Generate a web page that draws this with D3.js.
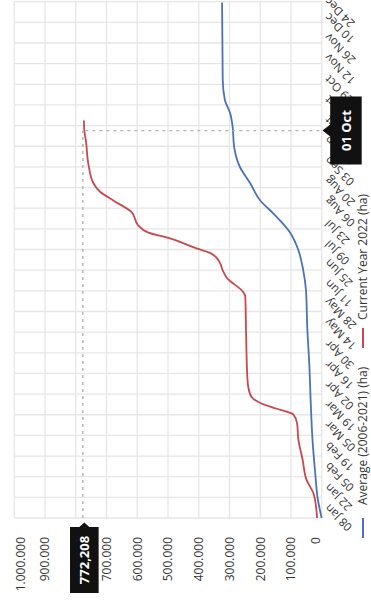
<!DOCTYPE html>
<html><head><meta charset="utf-8">
<script src="https://cdn.jsdelivr.net/npm/d3@7"></script>
<style>
html,body{margin:0;padding:0;background:#fff;}
svg{display:block;font-family:"Open Sans",sans-serif;}
</style>
</head><body>
<svg id="chart" width="371" height="609"></svg>
<script>
// ---- data ----
const tickDates = ["2022-01-08","2022-01-22","2022-02-05","2022-02-19","2022-03-05","2022-03-19",
  "2022-04-02","2022-04-16","2022-04-30","2022-05-14","2022-05-28","2022-06-11","2022-06-25",
  "2022-07-09","2022-07-23","2022-08-06","2022-08-20","2022-09-03","2022-09-17","2022-10-01",
  "2022-10-15","2022-10-29","2022-11-12","2022-11-26","2022-12-10","2022-12-24"];
const valueTicks = [0,100000,200000,300000,400000,500000,600000,700000,800000,900000,1000000];
const seriesNames = ["Average (2006-2021) (ha)", "Current Year 2022 (ha)"];
const seriesColors = ["#4a72b9", "#c8484f"];

const avgDates = ["2022-01-08","2022-01-20","2022-02-10","2022-03-03","2022-03-30","2022-04-22",
  "2022-05-19","2022-06-13","2022-06-27","2022-07-11","2022-07-23","2022-08-05","2022-08-14",
  "2022-08-26","2022-09-06","2022-09-20","2022-10-04","2022-10-13","2022-10-22","2022-11-05","2022-12-28"];
const avgValues = [0,12000,22000,30000,36000,40000,47000,51000,60000,76000,103000,157000,200000,
  233000,266000,285000,290000,298000,315000,322000,324000];

const curDates = ["2022-01-08","2022-01-13","2022-01-25","2022-02-03","2022-02-17","2022-03-03",
  "2022-03-14","2022-03-20","2022-03-24","2022-03-28","2022-04-01","2022-04-08","2022-04-15",
  "2022-05-15","2022-06-09","2022-06-12","2022-06-22","2022-06-27","2022-07-03","2022-07-09",
  "2022-07-13","2022-07-19","2022-07-23","2022-07-28","2022-08-06","2022-08-14","2022-08-20",
  "2022-08-26","2022-09-08","2022-09-24","2022-10-01","2022-10-08"];
const curValues = [15000,17000,27000,49000,62000,76000,80000,92000,146000,200000,228000,239000,242000,
  246000,248500,255000,309000,322000,333000,363000,418000,493000,564000,597000,618000,678000,721000,
  743000,759000,767000,772208,773500];

const cursorDate = "2022-10-01";
const cursorValue = 772208;
const domainDates = ["2022-01-08","2022-12-28T12:00:00Z"];

// ---- layout (chart drawn in its own frame, then turned 90° counter-clockwise) ----
const W = 609, H = 371;
const plot = {left: 91, right: 607.3, top: 14.3, bottom: 321.7};

const svg = d3.select("#chart");
const g = svg.append("g").attr("transform", `translate(0,${W}) rotate(-90)`);

const parse = s => new Date(s.length === 10 ? s + "T00:00:00Z" : s);
const x = d3.scaleUtc().domain(domainDates.map(parse)).range([plot.left, plot.right]);
const y = d3.scaleLinear().domain([0, 1000000]).range([plot.bottom, plot.top]);
const gridScale = d3.scaleLinear().domain([0, 25]).range([plot.left, plot.right]);

// grid
const grid = g.append("g").attr("stroke", "#e6e6e6").attr("stroke-width", 1.3);
grid.selectAll("line.v").data(d3.range(26)).join("line")
  .attr("x1", d => gridScale(d)).attr("x2", d => gridScale(d))
  .attr("y1", plot.top).attr("y2", plot.bottom);
grid.selectAll("line.h").data(valueTicks).join("line")
  .attr("x1", plot.left).attr("x2", plot.right)
  .attr("y1", d => y(d)).attr("y2", d => y(d));

// value axis labels
const loc = d3.formatLocale({decimal: ",", thousands: ".", grouping: [3], currency: ["", ""]});
const fmt = loc.format(",d");
const yAxis = g.append("g").attr("transform", `translate(${plot.left},0)`)
  .call(d3.axisLeft(y).tickValues(valueTicks).tickSize(0).tickPadding(19).tickFormat(fmt));
yAxis.select(".domain").remove();
yAxis.selectAll("text").attr("font-size", 12).attr("fill", "#333").attr("font-family", "Open Sans")
  .attr("dy", d => d === 0 ? "-0.22em" : (d === 1000000 ? "0.82em" : "0.32em"));

// date labels
const fmtDate = d3.utcFormat("%d %b");
const dl = g.append("g");
tickDates.forEach(s => {
  const d = parse(s);
  const t = dl.append("text").text(fmtDate(d))
    .attr("font-size", 11.5).attr("fill", "#333")
    .attr("text-anchor", "middle").attr("dominant-baseline", "central");
  const L = t.node().getComputedTextLength();
  const ext = (L + 8) * Math.SQRT1_2;
  const px = Math.min(x(d), W - ext / 2 + 3);
  t.attr("transform", `translate(${px},${plot.bottom + 2 + ext / 2}) rotate(-45)`);
});

// series
const line = d3.line().x(d => x(d[0])).y(d => y(d[1])).curve(d3.curveMonotoneX);
g.append("clipPath").attr("id", "clip").append("rect")
  .attr("x", plot.left).attr("y", plot.top - 2)
  .attr("width", plot.right - plot.left).attr("height", plot.bottom - plot.top + 4);
const series = [
  d3.zip(avgDates.map(parse), avgValues),
  d3.zip(curDates.map(parse), curValues)
];
g.append("g").attr("clip-path", "url(#clip)").selectAll("path").data(series).join("path")
  .attr("d", line).attr("fill", "none")
  .attr("stroke", (d, i) => seriesColors[i]).attr("stroke-width", 1.8);

// cursor lines
const cx = x(parse(cursorDate)), cy = y(cursorValue);
const cur = g.append("g").attr("stroke", "#b3b3b3").attr("stroke-width", 1.4).attr("stroke-dasharray", "3,4");
cur.append("line").attr("x1", cx).attr("x2", cx).attr("y1", cy + 1).attr("y2", plot.bottom);
cur.append("line").attr("x1", plot.left).attr("x2", cx).attr("y1", cy - 1.5).attr("y2", cy - 1.5);

// legend
const legend = g.append("g");
const legendX = [71, 261];
seriesNames.forEach((name, i) => {
  const lg = legend.append("g").attr("transform", `translate(${legendX[i]},363)`);
  lg.append("line").attr("x1", 0).attr("x2", 20).attr("stroke", seriesColors[i]).attr("stroke-width", 2);
  lg.append("text").attr("x", i === 0 ? 33 : 28).attr("dy", "0.35em").attr("font-size", 12)
    .attr("fill", "#333").text(name);
});

// date tooltip
const dt = g.append("g").attr("transform", `translate(${cx},${plot.bottom})`);
dt.append("path").attr("d", "M0,0.8 L6,8.5 L34,8.5 L34,40 L-34,40 L-34,8.5 L-6,8.5 Z").attr("fill", "#111");
dt.append("text").attr("y", 24.5).attr("text-anchor", "middle").attr("dominant-baseline", "central")
  .attr("font-size", 13).attr("font-weight", "bold").attr("fill", "#fff").text(fmtDate(parse(cursorDate)));

// value tooltip
const vt = g.append("g").attr("transform", `translate(${plot.left},${y(cursorValue)})`);
vt.append("path").attr("d", "M-4.5,0 L-9,-5 L-9,-14.3 L-75,-14.3 L-75,14.3 L-9,14.3 L-9,5 Z").attr("fill", "#111");
vt.append("text").attr("x", -42).attr("text-anchor", "middle").attr("dominant-baseline", "central")
  .attr("font-size", 13).attr("font-weight", "bold").attr("fill", "#fff").text(d3.format(",d")(cursorValue));
</script>
</body></html>
